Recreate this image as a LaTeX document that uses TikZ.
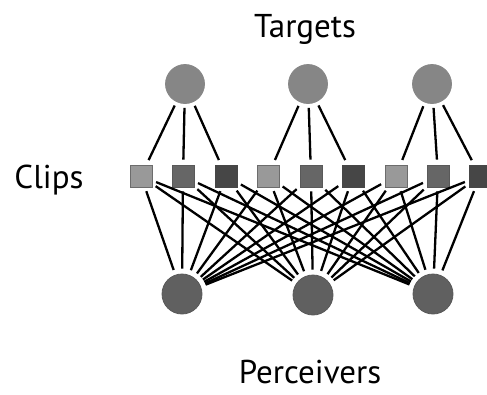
\documentclass[tikz,border=0pt]{standalone}
\usepackage{fontspec}
\setmainfont{PT Sans}
\tikzset{
  tgt_n/.style = {circle, draw=gray!105!black, fill=gray!95, line width=0.8pt, minimum size=39pt, inner sep=0pt},
  prc_n/.style = {circle, draw=gray!70!black, fill=gray!75!black, line width=0.8pt, minimum size=40pt, inner sep=0pt},
  clp_l/.style = {rectangle, draw=gray!85!black, fill=gray!80, line width=0.8pt, minimum size=22pt, inner sep=0pt},
  clp_m/.style = {rectangle, draw=gray!70!black, fill=gray!80!black, line width=0.8pt, minimum size=22pt, inner sep=0pt},
  clp_d/.style = {rectangle, draw=gray!55!black, fill=gray!55!black, line width=0.8pt, minimum size=22pt, inner sep=0pt},
  lnk/.style = {line width=2.3pt, black, shorten <=4pt, shorten >=5pt},
  lbl/.style = {anchor=base, inner sep=0pt, text depth=0pt, font=\fontsize{33}{36}\selectfont}
}

\begin{document}
\begin{tikzpicture}[x=1pt,y=-1pt]
	\useasboundingbox (0,0) rectangle (487,394);
	\clip (0,0) rectangle (487,394);

	% labels
	\node [lbl] (lTgt) at (305,37) {Targets};
	\node [lbl] (lClp) at (49,188) {Clips};
	\node [lbl] (lPrc) at (310,383) {Perceivers};

	% targets
	\node [tgt_n] (t1) at (185,84) {};
	\node [tgt_n] (t2) at (308,84) {};
	\node [tgt_n] (t3) at (432,84) {};

	% clips
	\node [clp_l] (c1) at (141,176) {};
	\node [clp_m] (c2) at (183,176) {};
	\node [clp_d] (c3) at (226,176) {};
	\node [clp_l] (c4) at (268,176) {};
	\node [clp_m] (c5) at (311,176) {};
	\node [clp_d] (c6) at (353,176) {};
	\node [clp_l] (c7) at (396,176) {};
	\node [clp_m] (c8) at (438,176) {};
	\node [clp_d] (c9) at (480,176) {};

	% perceivers
	\node [prc_n] (p1) at (182,294) {};
	\node [prc_n] (p2) at (313,295) {};
	\node [prc_n] (p3) at (433,294) {};

	% target -- clip
	\foreach \t/\a/\b/\c in {1/1/2/3, 2/4/5/6, 3/7/8/9} {
		\draw [lnk] (t\t) -- (c\a);
		\draw [lnk] (t\t) -- (c\b);
		\draw [lnk] (t\t) -- (c\c);
	}

	% clip -- perceiver
	\foreach \c in {1,...,9}
		\foreach \p in {1,2,3}
			\draw [lnk] (c\c) -- (p\p);
\end{tikzpicture}
\end{document}
